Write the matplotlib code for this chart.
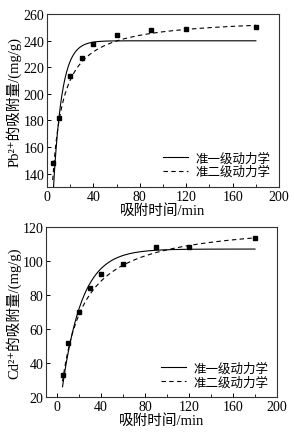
import matplotlib.pyplot as plt
import numpy as np

plt.rcParams['font.family'] = ['Liberation Serif', 'Noto Sans CJK SC', 'DejaVu Serif']
plt.rcParams['xtick.direction'] = 'in'
plt.rcParams['ytick.direction'] = 'in'

# measured data
t_pb = [5, 10, 20, 30, 40, 60, 90, 120, 180]
q_pb = [147.8, 182.1, 213.4, 227.0, 237.8, 244.0, 247.9, 248.9, 250.7]
t_cd = [5, 10, 20, 30, 40, 60, 90, 120, 180]
q_cd = [32.7, 52.0, 70.2, 84.3, 92.2, 98.4, 108.4, 108.4, 113.5]

# fitted kinetic parameters
pb_pfo = (240.0, 0.137)     # qe, k1
pb_pso = (258.0, 0.22)      # qe, k2*qe
cd_pfo = (107.0, 0.0557)
cd_pso = (123.8, 0.0618)

labels = ['准一级动力学', '准二级动力学']


def pfo(t, qe, k):
    return qe * (1 - np.exp(-k * t))


def pso(t, qe, h):
    return qe * h * t / (1 + h * t)


fig = plt.figure(figsize=(2.95, 4.35), dpi=100)
ax1 = fig.add_axes([0.159, 0.568, 0.787, 0.397])
ax2 = fig.add_axes([0.156, 0.085, 0.783, 0.391])

tt = np.linspace(5, 180, 400)

panels = [
    (ax1, t_pb, q_pb, pb_pfo, pb_pso, (0, 200), (130, 260), 'Pb²⁺的吸附量/(mg/g)'),
    (ax2, t_cd, q_cd, cd_pfo, cd_pso, (-10, 200), (20, 120), 'Cd²⁺的吸附量/(mg/g)'),
]

for ax, t, q, p1, p2, xl, yl, ylab in panels:
    ax.plot(tt, pfo(tt, *p1), color='black', lw=0.8, label=labels[0])
    ax.plot(tt, pso(tt, *p2), color='black', lw=0.8, ls=(0, (4, 3)), label=labels[1])
    ax.plot(t, q, 's', color='black', ms=3.5)
    ax.set_xlim(*xl)
    ax.set_ylim(*yl)
    ax.set_xticks(np.arange(0, 201, 40))
    ax.set_xticks(np.arange(0, 201, 20), minor=True)
    ax.set_yticks(np.arange(yl[0] + (20 - yl[0] % 20) % 20, yl[1] + 1, 20))
    ax.tick_params(labelsize=10, length=3, width=0.7, pad=2)
    ax.tick_params(axis='x', pad=2.5)
    ax.tick_params(which='minor', length=2, width=0.6)
    for s in ax.spines.values():
        s.set_linewidth(0.8)
        s.set_color('#333333')
    ax.set_xlabel('吸附时间/min', fontsize=10.5, labelpad=0)
    ax.set_ylabel(ylab, fontsize=10.5, labelpad=1)
    ax.legend(loc='lower right', frameon=False, fontsize=9, handlelength=2.0,
              borderaxespad=0.3, labelspacing=0.1, handletextpad=0.6)

fig.savefig('out.png', dpi=100)
